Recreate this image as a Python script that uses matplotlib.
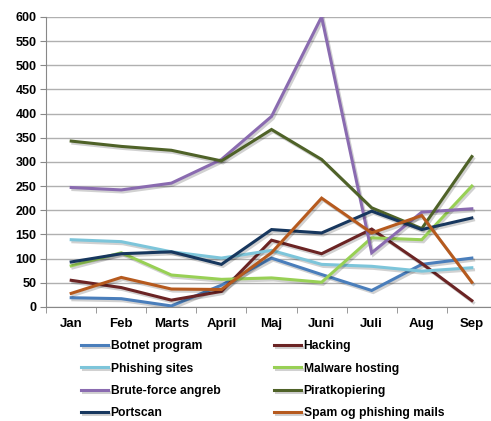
import numpy as np
import matplotlib
matplotlib.use("Agg")
import matplotlib.pyplot as plt
import matplotlib.patheffects as pe

# -------------------- DATA --------------------
months = ["Jan", "Feb", "Marts", "April", "Maj", "Juni", "Juli", "Aug", "Sep"]

botnet = [19, 17, 2, 45, 101, 67, 34, 88, 101]
hacking = [55, 40, 14, 32, 138, 110, 161, 90, 13]
phishing = [139, 135, 114, 101, 117, 88, 84, 74, 81]
malware = [85, 112, 66, 57, 60, 51, 143, 139, 250]
bruteforce = [247, 242, 256, 305, 394, 600, 112, 196, 203]
pirat = [343, 332, 324, 302, 367, 305, 205, 162, 311]
portscan = [93, 110, 114, 88, 160, 153, 198, 160, 184]
spam = [28, 61, 37, 36, 112, 225, 153, 189, 51]

series = [
    ("Botnet program", botnet, "#4A7EBB"),
    ("Hacking", hacking, "#6B2424"),
    ("Phishing sites", phishing, "#7DC5DA"),
    ("Malware hosting", malware, "#98D055"),
    ("Brute-force angreb", bruteforce, "#8A6BB0"),
    ("Piratkopiering", pirat, "#4F6228"),
    ("Portscan", portscan, "#17375E"),
    ("Spam og phishing mails", spam, "#B65A1E"),
]

plt.rcParams["font.family"] = ["Liberation Sans", "DejaVu Sans"]

# -------------------- PLOT --------------------
fig = plt.figure(figsize=(4.91, 4.21), dpi=100)
ax = fig.add_axes([0.094, 0.271, 0.918, 0.689])

x = np.arange(len(months))
shadow = [pe.SimpleLineShadow(offset=(1.2, -1.5), alpha=0.18, shadow_color="black"),
          pe.Normal()]
lines = []
for name, vals, col in series:
    ln, = ax.plot(x, vals, color=col, linewidth=2.2, label=name, path_effects=shadow,
                  solid_joinstyle="miter", zorder=3)
    lines.append(ln)

ax.set_xlim(-0.5, 8.5)
ax.set_ylim(0, 600)
ax.set_yticks(range(0, 601, 50))
ax.set_xticks(x)
ax.set_xticklabels(months)
ax.set_xticks(np.arange(-0.5, 9, 1), minor=True)
ax.tick_params(axis="x", which="major", length=0, pad=8)
ax.tick_params(axis="x", which="minor", length=4, color="#888888")
ax.tick_params(axis="y", length=4, color="#888888", pad=3)
for lab in ax.get_xticklabels():
    lab.set_fontsize(9.5)
    lab.set_fontweight("bold")
for lab in ax.get_yticklabels():
    lab.set_fontsize(9)
    lab.set_fontweight("bold")

ax.grid(axis="y", color="#B0B0B0", linewidth=1)
ax.set_axisbelow(True)
for s in ["top", "right"]:
    ax.spines[s].set_visible(False)
ax.spines["left"].set_color("#888888")
ax.spines["bottom"].set_color("#888888")

# legend is filled row by row in the reference
order = [0, 2, 4, 6, 1, 3, 5, 7]
fig.legend([lines[i] for i in order], [series[i][0] for i in order],
           loc="upper left", bbox_to_anchor=(0.155, 0.203), ncol=2,
           frameon=False, prop={"size": 8.7, "weight": "bold"},
           handlelength=2.2, handletextpad=0.25, columnspacing=4.45,
           labelspacing=0.85, borderaxespad=0)

fig.savefig("out.png", dpi=100)
